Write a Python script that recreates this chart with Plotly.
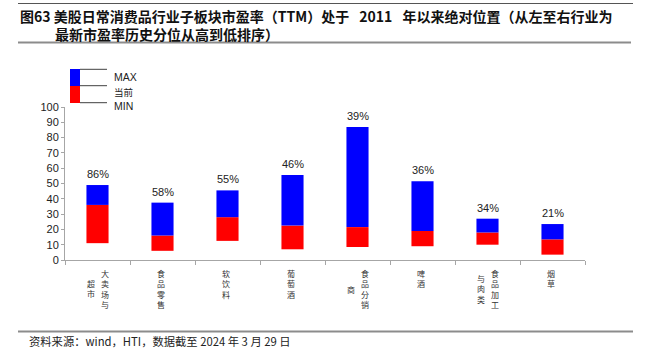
import plotly.graph_objects as go

# ---- data ----
categories = ["大卖场与超市", "食品零售", "软饮料", "葡萄酒", "食品分销商", "啤酒", "食品加工与肉类", "烟草"]
pe_max = [49, 37.5, 45.5, 55.5, 87, 51.5, 27, 23.5]
pe_current = [36, 16, 28, 22.5, 21.5, 19, 18, 13.5]
pe_min = [11, 6, 12.5, 7, 8.5, 9, 10, 3.5]
percentile_labels = ["86%", "58%", "55%", "46%", "39%", "36%", "34%", "21%"]
y_ticks = [0, 10, 20, 30, 40, 50, 60, 70, 80, 90, 100]

title_line1 = "图63 美股日常消费品行业子板块市盈率（TTM）处于\u2002 2011 \u2002年以来绝对位置（从左至右行业为"
title_line2 = "最新市盈率历史分位从高到低排序）"
source_text = "资料来源：wind，HTI，数据截至 2024 年 3 月 29 日"

# ---- layout geometry (pixels) ----
W, H = 647, 360
L, R, T, B = 65, 585, 107, 260
PW, PH = R - L, B - T


def px_x(x):
    return (x - L) / PW


def px_y(y):
    return (B - y) / PH


BLUE = "#0000FF"
RED = "#FF0000"
AX = "#A6A6A6"
CJK = "Noto Sans CJK SC"
LAT = "Liberation Sans, Arial, sans-serif"

fig = go.Figure()
fig.add_trace(go.Bar(
    x=categories,
    y=[c - m for c, m in zip(pe_current, pe_min)],
    base=pe_min,
    marker=dict(color=RED, line=dict(width=0)),
    width=0.34,
    showlegend=False,
    hoverinfo="skip",
))
fig.add_trace(go.Bar(
    x=categories,
    y=[mx - c for mx, c in zip(pe_max, pe_current)],
    base=pe_current,
    marker=dict(color=BLUE, line=dict(width=0)),
    width=0.34,
    showlegend=False,
    hoverinfo="skip",
))

annotations = []
shapes = []

# percentile labels above bars
for cat, top, lab in zip(categories, pe_max, percentile_labels):
    annotations.append(dict(
        x=cat, y=top, xref="x", yref="y", text=lab, showarrow=False,
        yanchor="bottom", yshift=3,
        font=dict(family=LAT, size=11, color="#222222"),
    ))

# vertical category labels (columns right-to-left, 4 chars per column)
CH = 10.4
top_px = 266
for cat in categories:
    cols = [cat[i:i + 4] for i in range(0, len(cat), 4)]
    n1 = len(cols[0])
    for k, col in enumerate(cols):
        if len(cols) == 1:
            xs = -2
        else:
            xs = 7 if k == 0 else -7
        col_top = top_px + (n1 - len(col)) * CH / 2
        annotations.append(dict(
            x=cat, xref="x", y=px_y(col_top), yref="paper",
            text="<br>".join(list(col)), showarrow=False,
            xanchor="center", yanchor="top", xshift=xs,
            font=dict(family=CJK, size=8, color="#333333"),
            align="center",
        ))

# custom legend
shapes.append(dict(type="rect", xref="paper", yref="paper",
                   x0=px_x(70), x1=px_x(80), y0=px_y(86), y1=px_y(69),
                   fillcolor=BLUE, line=dict(width=0)))
shapes.append(dict(type="rect", xref="paper", yref="paper",
                   x0=px_x(70), x1=px_x(80), y0=px_y(103), y1=px_y(86),
                   fillcolor=RED, line=dict(width=0)))
for ly in (69.3, 85.7, 102.7):
    shapes.append(dict(type="line", xref="paper", yref="paper",
                       x0=px_x(80), x1=px_x(107), y0=px_y(ly), y1=px_y(ly),
                       line=dict(color="#404040", width=1)))
for txt, ty, fam in (("MAX", 76.7, LAT), ("当前", 91.7, CJK), ("MIN", 105.7, LAT)):
    annotations.append(dict(
        x=px_x(112), y=px_y(ty), xref="paper", yref="paper", text=txt,
        showarrow=False, xanchor="left", yanchor="middle",
        font=dict(family=fam, size=10.5 if fam == LAT else 9.5, color="#222222"),
    ))

# title (two lines in one block, second line indented)
annotations.append(dict(
    x=px_x(19), y=px_y(5), xref="paper", yref="paper",
    text="<b>" + title_line1 + "<br>\u3000\u3000\u2002" + title_line2 + "</b>",
    showarrow=False, xanchor="left", yanchor="top", align="left", borderpad=0,
    font=dict(family=CJK, size=14, color="#111111"),
))
shapes.append(dict(type="line", xref="paper", yref="paper",
                   x0=px_x(18), x1=px_x(633), y0=px_y(3.5), y1=px_y(3.5),
                   line=dict(color="#555555", width=1)))
shapes.append(dict(type="line", xref="paper", yref="paper",
                   x0=px_x(18), x1=px_x(631), y0=px_y(42.5), y1=px_y(42.5),
                   line=dict(color="#8C8C8C", width=2)))

# footer
shapes.append(dict(type="line", xref="paper", yref="paper",
                   x0=px_x(18), x1=px_x(633), y0=px_y(331.5), y1=px_y(331.5),
                   line=dict(color="#8C8C8C", width=2)))
annotations.append(dict(
    x=px_x(27), y=px_y(341), xref="paper", yref="paper", text=source_text,
    showarrow=False, xanchor="left", yanchor="middle",
    font=dict(family=CJK, size=11.3, color="#222222"),
))

fig.update_layout(
    width=W, height=H,
    margin=dict(l=L, r=W - R, t=T, b=H - B, pad=0),
    paper_bgcolor="white", plot_bgcolor="white",
    barmode="overlay",
    showlegend=False,
    annotations=annotations,
    shapes=shapes,
    xaxis=dict(
        type="category", showticklabels=False, showgrid=False, zeroline=False,
        showline=True, linecolor=AX, linewidth=1,
        ticks="outside", ticklen=4, tickcolor=AX, tickson="boundaries",
        range=[-0.5, len(categories) - 0.5], fixedrange=True,
    ),
    yaxis=dict(
        range=[0, 100], tickvals=y_ticks, showgrid=False, zeroline=False,
        showline=True, linecolor=AX, linewidth=1,
        ticks="outside", ticklen=3, tickcolor=AX,
        tickfont=dict(family=LAT, size=11, color="#222222"), fixedrange=True,
    ),
)

fig.write_html("out.html", config={"displayModeBar": False},
               post_script="document.body.style.margin='0';")
